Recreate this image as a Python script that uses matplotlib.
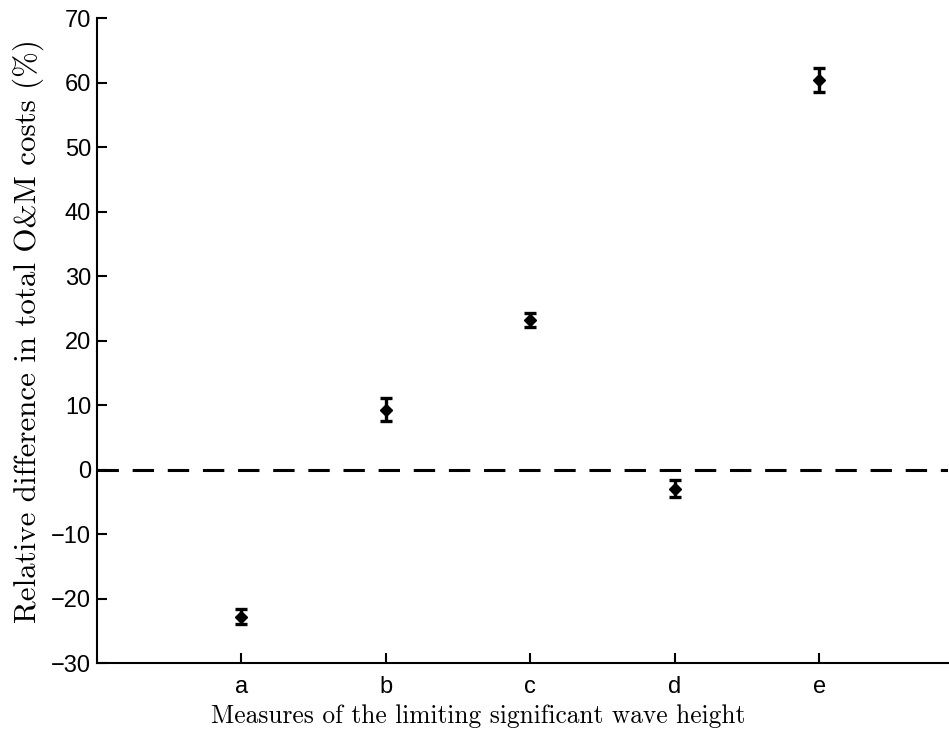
import matplotlib
matplotlib.use("Agg")
import matplotlib.pyplot as plt

# measures of the limiting significant wave height
categories = ['a', 'b', 'c', 'd', 'e']
rel_diff = [-22.8, 9.3, 23.2, -3.0, 60.4]
err = [1.1, 1.8, 1.1, 1.3, 1.9]

fig = plt.figure(figsize=(9.49, 7.38), dpi=100)
ax = fig.add_axes([0.102, 0.1016, 0.897, 0.874])

x = list(range(1, len(categories) + 1))
ax.errorbar(x, rel_diff, yerr=err, fmt='D', color='black', markersize=6.5,
            elinewidth=2.4, capsize=4.5, capthick=2.4, zorder=3)
ax.axhline(0, color='black', linewidth=2.2, linestyle=(0, (7, 4.5)))

ax.set_xlim(0, 5.89)
ax.set_ylim(-30, 70)
ax.set_xticks(x)
ax.set_xticklabels(categories)
ax.set_yticks(range(-30, 71, 10))

for side in ['top', 'right']:
    ax.spines[side].set_visible(False)
for side in ['left', 'bottom']:
    ax.spines[side].set_linewidth(1.5)
ax.tick_params(direction='in', length=7, width=1.5, labelsize=17, pad=4)
ax.tick_params(axis='x', pad=9)
for lab in ax.get_xticklabels() + ax.get_yticklabels():
    lab.set_family('Liberation Sans')

ax.set_xlabel('Measures of the limiting significant wave height',
              family='cmr10', fontsize=18.3)
ax.set_ylabel('Relative difference in total O&M costs (%)',
              family='cmr10', fontsize=22.3)
# labels sit a bit off-centre in the original
ax.xaxis.set_label_coords(0.448, -0.064)
ax.yaxis.set_label_coords(-0.062, 0.515)

fig.savefig('out.png', dpi=100)
